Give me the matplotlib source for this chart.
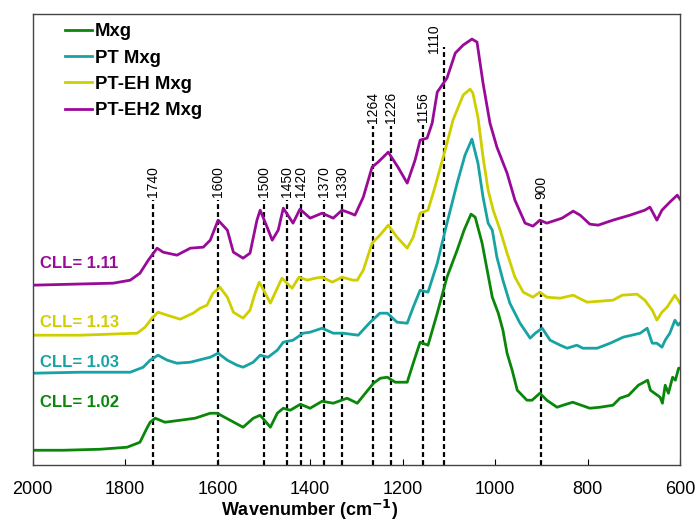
# coding: utf-8

import matplotlib
matplotlib.use('Agg')
from matplotlib import pyplot as plt
from matplotlib.lines import Line2D

# FTIR spectra (stacked, arbitrary units)
wn_mxg = [2000, 1934, 1854, 1796, 1768, 1752, 1746, 1735, 1714, 1681, 1649, 1616, 1601, 1573, 1545, 1523,
          1508, 1486, 1471, 1458, 1443, 1421, 1400, 1374, 1350, 1320, 1298, 1263, 1248, 1233, 1216, 1190,
          1177, 1162, 1145, 1125, 1104, 1082, 1067, 1052, 1043, 1028, 1017, 1006, 993, 983, 974, 963,
          952, 931, 920, 903, 888, 866, 853, 832, 795, 773, 745, 730, 711, 690, 670, 664, 643, 638,
          632, 625, 616, 610, 603, 600]
ab_mxg = [0.15, 0.15, 0.16, 0.18, 0.23, 0.38, 0.43, 0.47, 0.43, 0.45, 0.47, 0.52, 0.52, 0.45, 0.38, 0.47,
          0.50, 0.38, 0.52, 0.57, 0.55, 0.61, 0.57, 0.64, 0.62, 0.67, 0.62, 0.82, 0.87, 0.88, 0.83, 0.83,
          1.02, 1.23, 1.20, 1.52, 1.88, 2.15, 2.35, 2.51, 2.48, 2.22, 1.95, 1.68, 1.52, 1.35, 1.12, 0.95,
          0.75, 0.65, 0.65, 0.72, 0.65, 0.58, 0.60, 0.63, 0.57, 0.58, 0.60, 0.67, 0.70, 0.80, 0.85, 0.75,
          0.68, 0.62, 0.80, 0.72, 0.88, 0.85, 0.97, 0.97]

wn_pt = [2000, 1897, 1789, 1761, 1746, 1729, 1709, 1688, 1659, 1616, 1599, 1579, 1558, 1545, 1523, 1508,
         1491, 1471, 1458, 1437, 1415, 1400, 1374, 1350, 1329, 1296, 1270, 1249, 1233, 1212, 1190, 1177,
         1162, 1145, 1125, 1104, 1082, 1065, 1050, 1037, 1026, 1015, 1006, 996, 983, 968, 946, 924,
         913, 898, 881, 859, 844, 823, 810, 779, 751, 723, 686, 671, 660, 650, 639, 632, 622, 611,
         604, 600]
ab_pt = [0.92, 0.93, 0.93, 0.98, 1.05, 1.10, 1.05, 1.02, 1.03, 1.08, 1.12, 1.05, 1.00, 0.98, 1.03, 1.10,
         1.08, 1.15, 1.23, 1.25, 1.32, 1.33, 1.37, 1.32, 1.32, 1.30, 1.43, 1.52, 1.52, 1.43, 1.42, 1.58,
         1.75, 1.73, 2.02, 2.42, 2.82, 3.10, 3.26, 3.02, 2.68, 2.42, 2.35, 2.08, 1.85, 1.62, 1.42, 1.27,
         1.32, 1.37, 1.25, 1.20, 1.17, 1.20, 1.17, 1.17, 1.22, 1.28, 1.32, 1.37, 1.22, 1.22, 1.18, 1.25,
         1.32, 1.45, 1.40, 1.42]

wn_pteh = [2000, 1897, 1774, 1757, 1742, 1729, 1709, 1681, 1653, 1638, 1623, 1610, 1595, 1579, 1566, 1545,
           1530, 1519, 1510, 1497, 1486, 1476, 1461, 1439, 1424, 1406, 1389, 1374, 1352, 1331, 1307, 1298,
           1285, 1266, 1249, 1231, 1212, 1190, 1177, 1162, 1145, 1130, 1108, 1091, 1069, 1054, 1048, 1037,
           1026, 1015, 1004, 989, 974, 957, 939, 918, 903, 888, 859, 831, 801, 773, 745, 725, 693, 676,
           660, 650, 639, 628, 611, 600]
ab_pteh = [1.30, 1.30, 1.32, 1.38, 1.47, 1.53, 1.50, 1.46, 1.52, 1.57, 1.60, 1.72, 1.78, 1.68, 1.53, 1.47,
           1.55, 1.72, 1.83, 1.72, 1.62, 1.72, 1.87, 1.77, 1.88, 1.85, 1.87, 1.88, 1.83, 1.88, 1.85, 1.85,
           1.95, 2.22, 2.30, 2.40, 2.28, 2.17, 2.28, 2.52, 2.55, 2.78, 3.15, 3.45, 3.70, 3.76, 3.72, 3.48,
           3.08, 2.75, 2.55, 2.35, 2.12, 1.88, 1.73, 1.68, 1.73, 1.68, 1.67, 1.70, 1.63, 1.64, 1.65, 1.70,
           1.71, 1.65, 1.55, 1.45, 1.53, 1.58, 1.70, 1.62]

wn_pteh2 = [2000, 1826, 1789, 1768, 1750, 1742, 1731, 1718, 1688, 1659, 1631, 1616, 1599, 1579, 1566, 1545,
            1530, 1515, 1508, 1493, 1482, 1469, 1458, 1437, 1422, 1400, 1374, 1350, 1331, 1313, 1303, 1285,
            1266, 1253, 1231, 1210, 1190, 1173, 1162, 1147, 1136, 1125, 1104, 1086, 1069, 1050, 1039, 1026,
            1011, 996, 974, 957, 935, 918, 903, 888, 855, 831, 816, 795, 777, 745, 708, 676, 665, 650,
            639, 622, 606, 600]
ab_pteh2 = [1.80, 1.82, 1.85, 1.92, 2.05, 2.10, 2.17, 2.13, 2.10, 2.17, 2.18, 2.25, 2.45, 2.35, 2.13, 2.07,
            2.12, 2.45, 2.55, 2.38, 2.25, 2.35, 2.57, 2.42, 2.56, 2.47, 2.52, 2.47, 2.55, 2.52, 2.50, 2.68,
            2.98, 3.03, 3.13, 2.98, 2.82, 3.05, 3.25, 3.27, 3.42, 3.73, 3.87, 4.12, 4.20, 4.26, 4.23, 3.82,
            3.42, 3.18, 2.92, 2.65, 2.42, 2.39, 2.45, 2.42, 2.47, 2.54, 2.50, 2.41, 2.40, 2.45, 2.50, 2.55,
            2.58, 2.45, 2.55, 2.63, 2.70, 2.66]

series_names = ['Mxg', 'PT Mxg', 'PT-EH Mxg', 'PT-EH2 Mxg']
cll_labels = ['CLL= 1.02', 'CLL= 1.03', 'CLL= 1.13', 'CLL= 1.11']

# assigned bands
peak_wn = [1740, 1600, 1500, 1450, 1420, 1370, 1330, 1264, 1226, 1156, 1110, 900]

x_ticks = [2000, 1800, 1600, 1400, 1200, 1000, 800, 600]


def draw_spectra():
    plt.rcParams['font.family'] = ['Liberation Sans', 'DejaVu Sans']

    fig = plt.figure(figsize=(6.96, 5.21), dpi=100)
    ax = fig.add_axes([0.047, 0.107, 0.930, 0.866])

    colors = ['#0a870a', '#17a3a3', '#cfcf00', '#990a99']
    wns = [wn_mxg, wn_pt, wn_pteh, wn_pteh2]
    abs_ = [ab_mxg, ab_pt, ab_pteh, ab_pteh2]
    for wn, ab, c in zip(wns, abs_, colors):
        ax.plot(wn, ab, color=c, lw=2.0, solid_joinstyle='round')

    # dashed band lines with vertical labels
    line_tops = [2.65, 2.65, 2.65, 2.65, 2.65, 2.65, 2.65, 3.39, 3.39, 3.40, 4.18, 2.63]
    for w, top in zip(peak_wn, line_tops):
        ax.plot([w, w], [0, top], color='black', lw=1.6, ls=(0, (2.2, 1.4)), zorder=1)
        tx = w + 22 if w == 1110 else w
        ty = 4.12 if w == 1110 else top + 0.03
        ax.text(tx, ty, str(w), rotation=90, ha='center', va='bottom', fontsize=10)

    # CLL annotations on the left
    cll_y = [0.63, 1.03, 1.43, 2.02]
    for txt, y, c in zip(cll_labels, cll_y, colors):
        ax.text(1985, y, txt, color=c, fontsize=12, fontweight='bold', ha='left', va='center')

    # legend
    handles = [Line2D([], [], color=c, lw=2.0) for c in colors]
    ax.legend(handles, series_names, loc='upper left', bbox_to_anchor=(0.03, 1.008), frameon=False,
              prop={'weight': 'bold', 'size': 13.3}, handlelength=1.45, handletextpad=0.15,
              labelspacing=0.5, borderaxespad=0.3)

    ax.set_xlim(2000, 600)
    ax.set_ylim(0, 4.51)
    ax.set_xticks(x_ticks)
    ax.set_yticks([])
    ax.tick_params(axis='x', direction='in', length=4, labelsize=13, pad=11)
    for sp in ax.spines.values():
        sp.set_color('#444444')
        sp.set_linewidth(1.0)
    ax.set_xlabel('Wavenumber (cm$^{\\mathbf{-1}}$)', fontsize=13, fontweight='bold')
    ax.xaxis.set_label_coords(0.428, -0.072)

    fig.savefig('out.png', dpi=100)


def main():
    draw_spectra()


if __name__ == "__main__":
    main()
